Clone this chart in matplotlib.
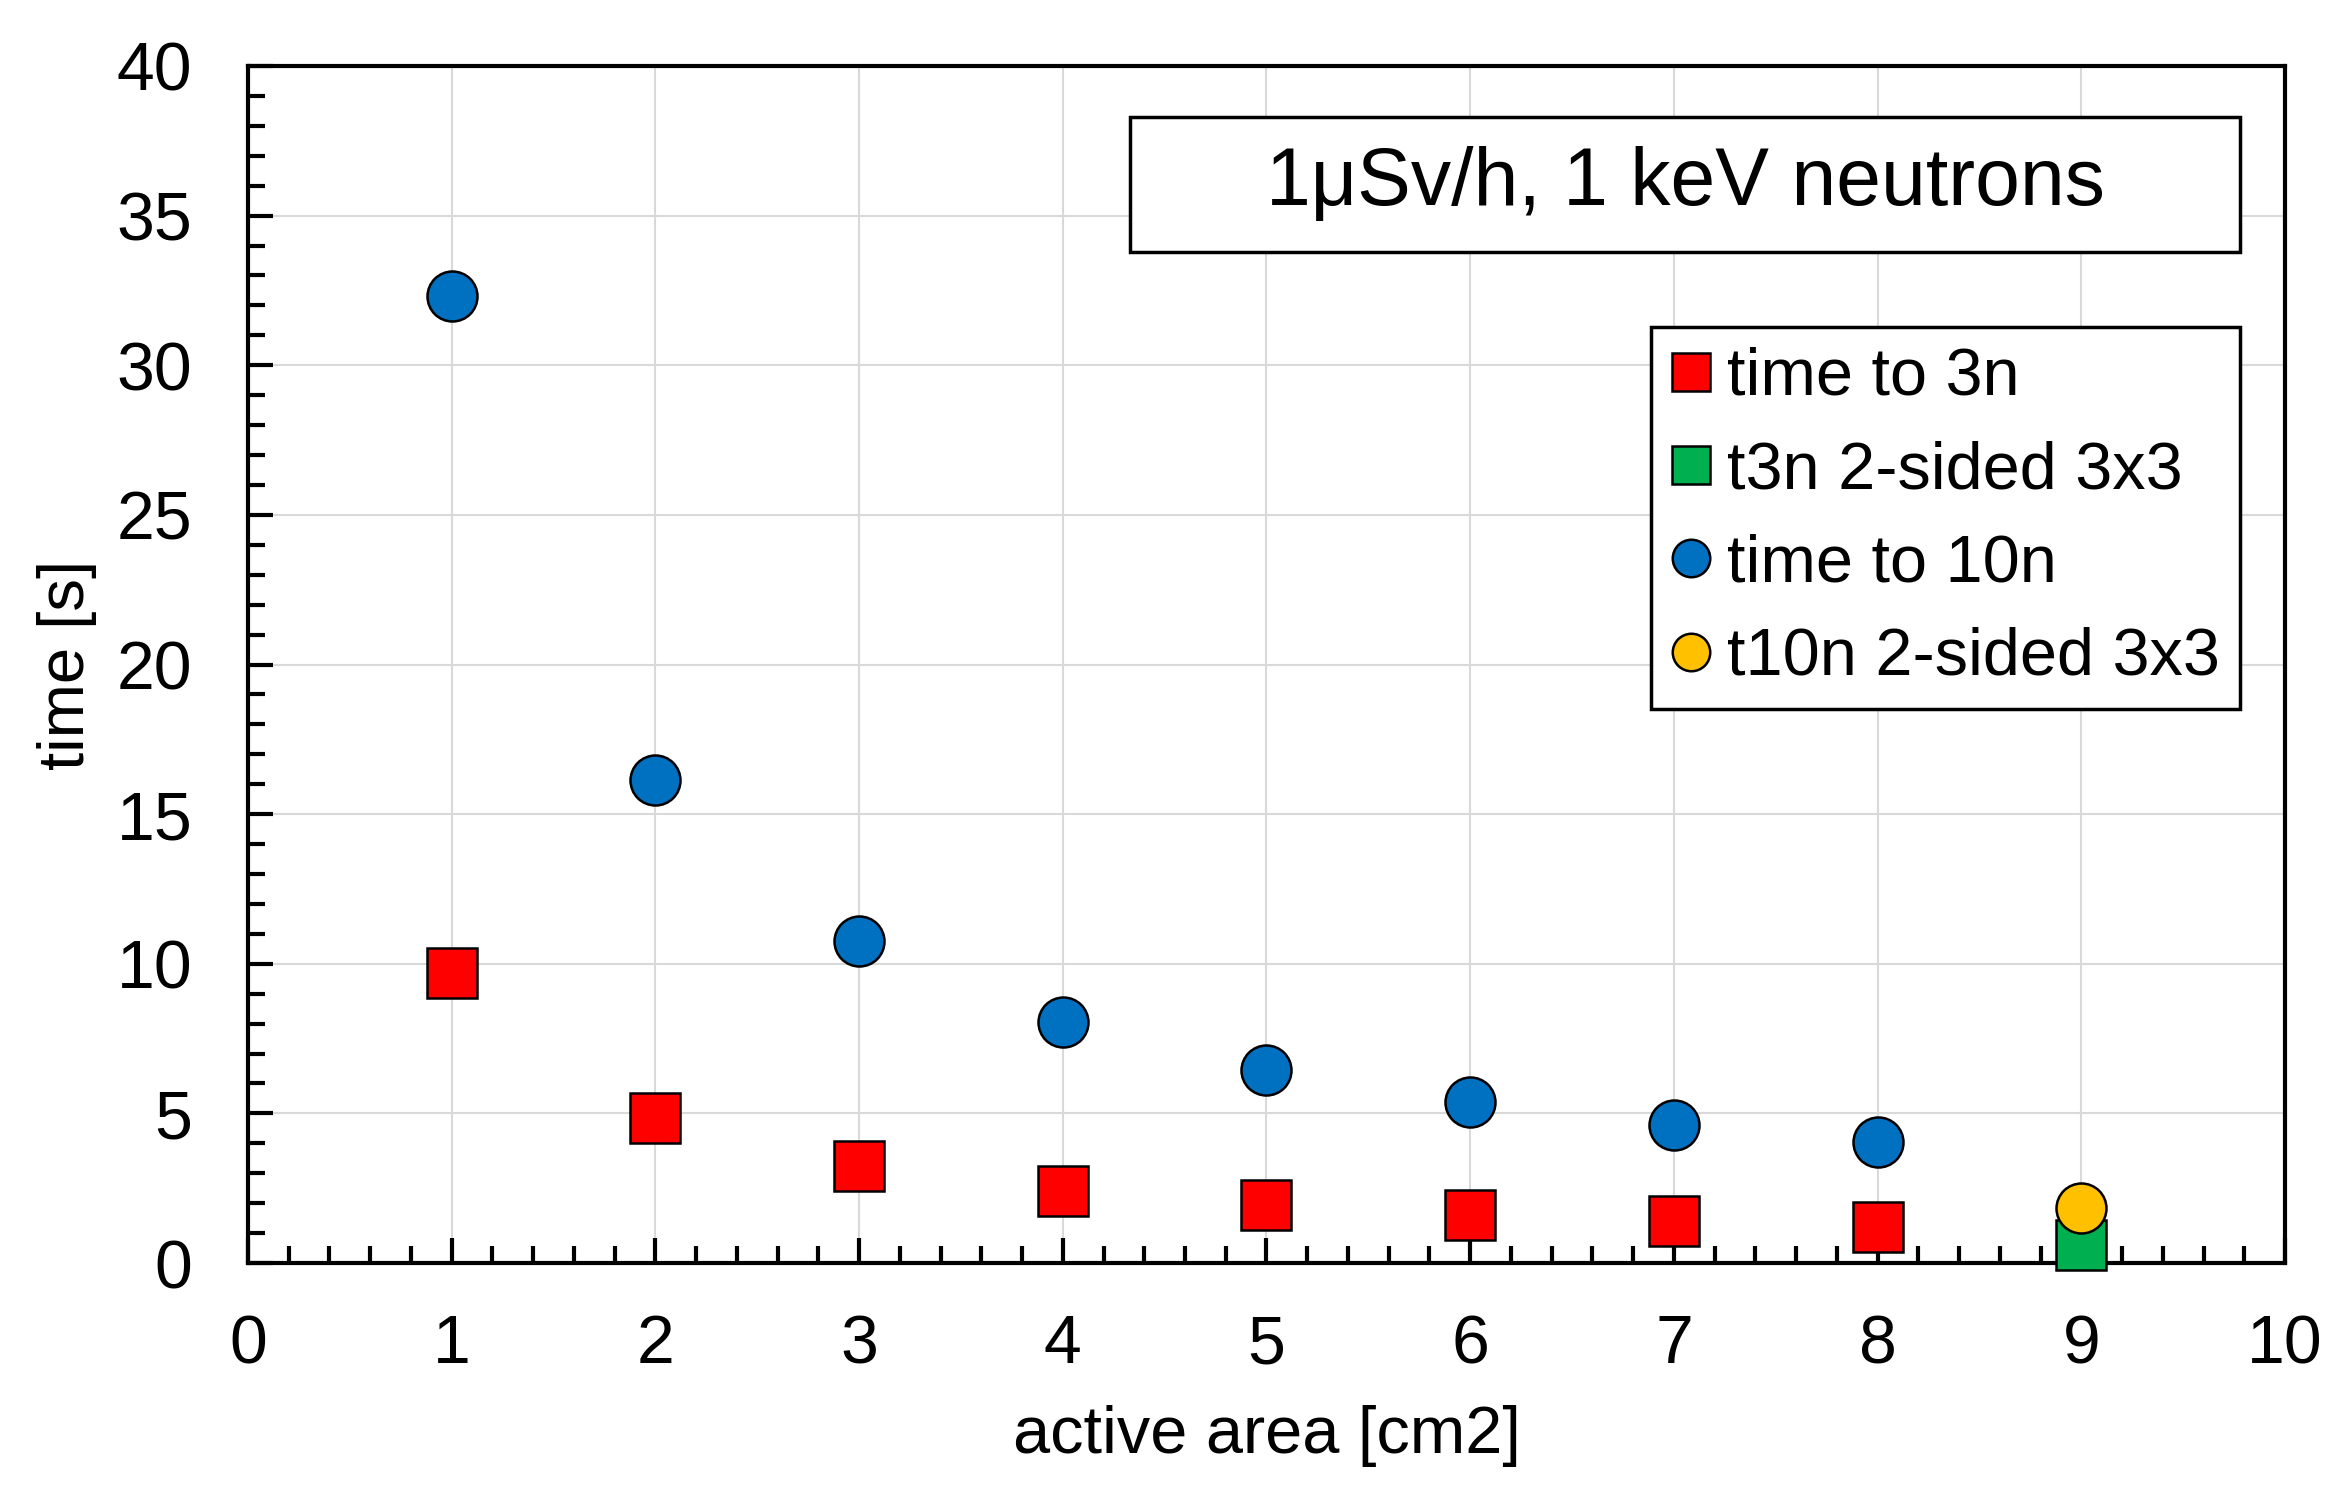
import matplotlib
matplotlib.use("Agg")
import matplotlib.pyplot as plt
from matplotlib.patches import Rectangle
from matplotlib.ticker import MultipleLocator

plt.rcParams["font.family"] = ["Liberation Sans", "DejaVu Sans"]

# --- data ---
area = [1, 2, 3, 4, 5, 6, 7, 8]
t3n = [9.7, 4.85, 3.23, 2.42, 1.94, 1.62, 1.39, 1.21]
t10n = [32.3, 16.15, 10.77, 8.07, 6.46, 5.38, 4.61, 4.04]
area_2s = [9]
t3n_2s = [0.6]
t10n_2s = [1.85]

RED = "#FF0000"
GREEN = "#00B050"
BLUE = "#0070C0"
YELLOW = "#FFC000"

fig = plt.figure(figsize=(23.46, 14.99), dpi=100)
ax = fig.add_axes([0.1057, 0.1574, 0.8683, 0.7986])

ms = 36
common = dict(linestyle="none", markeredgecolor="black", markeredgewidth=1.8,
              clip_on=False, zorder=4)
ax.plot(area, t3n, marker="s", markersize=ms, color=RED, label="time to 3n", **common)
ax.plot(area_2s, t3n_2s, marker="s", markersize=ms, color=GREEN, label="t3n 2-sided 3x3", **common)
ax.plot(area, t10n, marker="o", markersize=ms, color=BLUE, label="time to 10n", **common)
ax.plot(area_2s, t10n_2s, marker="o", markersize=ms, color=YELLOW, label="t10n 2-sided 3x3", **common)

ax.set_xlim(0, 10)
ax.set_ylim(0, 40)
ax.xaxis.set_major_locator(MultipleLocator(1))
ax.xaxis.set_minor_locator(MultipleLocator(0.2))
ax.yaxis.set_major_locator(MultipleLocator(5))
ax.yaxis.set_minor_locator(MultipleLocator(1))

ax.grid(True, which="major", color="#d9d9d9", linewidth=1.5)
ax.set_axisbelow(True)

for sp in ax.spines.values():
    sp.set_linewidth(3)
    sp.set_color("black")

ax.tick_params(which="major", direction="in", length=18, width=3, labelsize=49,
               top=False, right=False)
ax.tick_params(axis="y", which="major", pad=40)
ax.tick_params(axis="x", which="major", pad=36)
ax.tick_params(which="minor", direction="in", length=12, width=3, top=False, right=False)

ax.set_xlabel("active area [cm2]", fontsize=48, labelpad=20)
ax.set_ylabel("time [s]", fontsize=47, labelpad=14)

# title box
ax.add_patch(Rectangle((0.433, 0.845), 0.545, 0.1125, transform=ax.transAxes,
                       facecolor="white", edgecolor="black", linewidth=2.5, zorder=5))
ax.text(0.7055, 0.9015, "1μSv/h, 1 keV neutrons", transform=ax.transAxes,
        ha="center", va="center", fontsize=58, zorder=6)

leg = ax.legend(loc="upper right", bbox_to_anchor=(0.978, 0.782), borderaxespad=0,
                fontsize=48, markerscale=0.75, handlelength=0.6, handletextpad=0.25,
                labelspacing=0.47, borderpad=0.3,
                fancybox=False, framealpha=1, edgecolor="black")
leg.get_frame().set_linewidth(2.5)
leg.set_zorder(6)

fig.savefig("out.png", dpi=100, facecolor="white")
